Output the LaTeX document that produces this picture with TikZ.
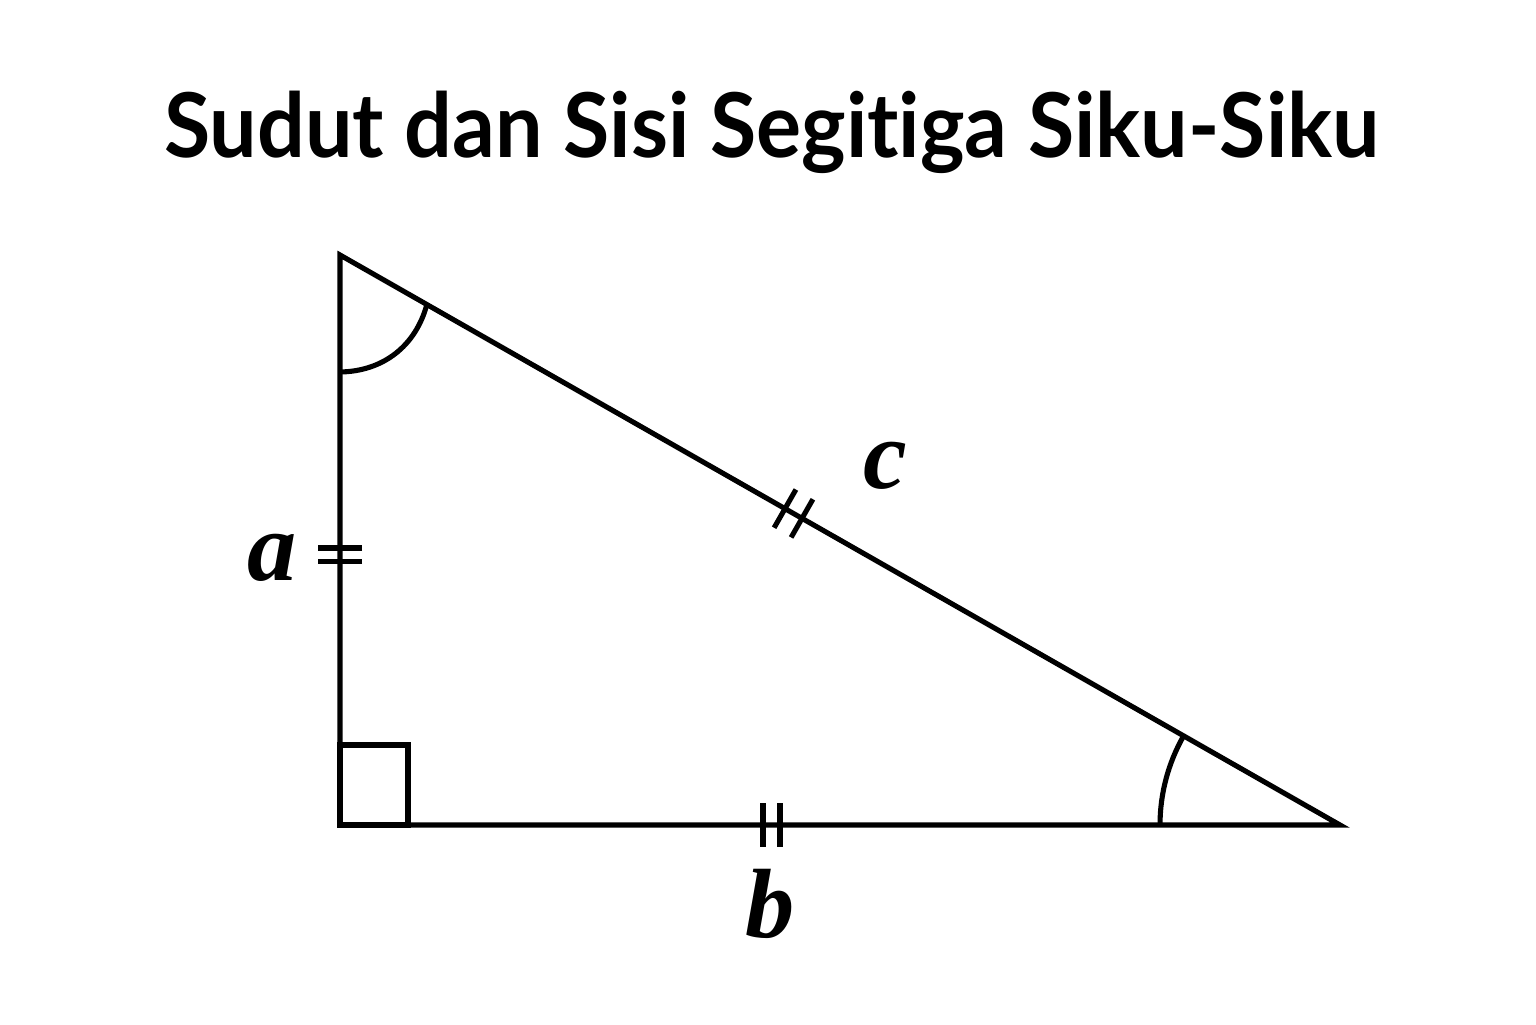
\documentclass[tikz,border=0pt]{standalone}
\usepackage{fontspec}
\setmainfont{Liberation Serif}
\newfontfamily\titlefont{Lato}[Ligatures=NoCommon]
\usetikzlibrary{calc,positioning}

\begin{document}
\begin{tikzpicture}[line width=1.45pt, font=\bfseries\itshape\fontsize{28}{32}\selectfont]
        \useasboundingbox (0,0) rectangle (15.36,10.24);
        \node [font=\titlefont\bfseries\fontsize{24}{30}\selectfont, yscale=1.06, transform shape] (title) at (7.72,8.92) {Sudut dan Sisi Segitiga Siku-Siku};

        % Vertices
        \coordinate (A) at (3.40,7.69);
        \coordinate (C) at (3.40,1.99);
        \coordinate (B) at (13.40,1.99);
        \draw (A) -- (C) -- (B) -- cycle;

        % Right angle
        \draw (C) rectangle ++(0.68,0.80);

        % Angle arcs
        \draw ($(A)!1.17cm!(C)$) to[bend right=37] ($(A)!1.0cm!(B)$);
        \draw ($(B)!1.80cm!(C)$) arc[start angle=180, end angle=150.32, radius=1.80cm];

        % Tick marks
        \path (A) -- (C) coordinate[pos=0.514] (ta1) coordinate[pos=0.538] (ta2);
        \path (C) -- (B) coordinate[pos=0.423] (tb1) coordinate[pos=0.440] (tb2);
        \path (A) -- (B) coordinate[pos=0.445] (tc1) coordinate[pos=0.462] (tc2);
        \foreach \t/\e in {ta1/C, ta2/C, tb1/B, tb2/B, tc1/B, tc2/B}
            \draw ($(\t)!0.22cm!90:(\e)$) -- ($(\t)!0.22cm!-90:(\e)$);

        % Side labels
        \node (la) at (2.72,4.66) {a};
        \node (lb) at (7.70,1.20) {b};
        \node (lc) at (8.85,5.58) {c};
\end{tikzpicture}
\end{document}
